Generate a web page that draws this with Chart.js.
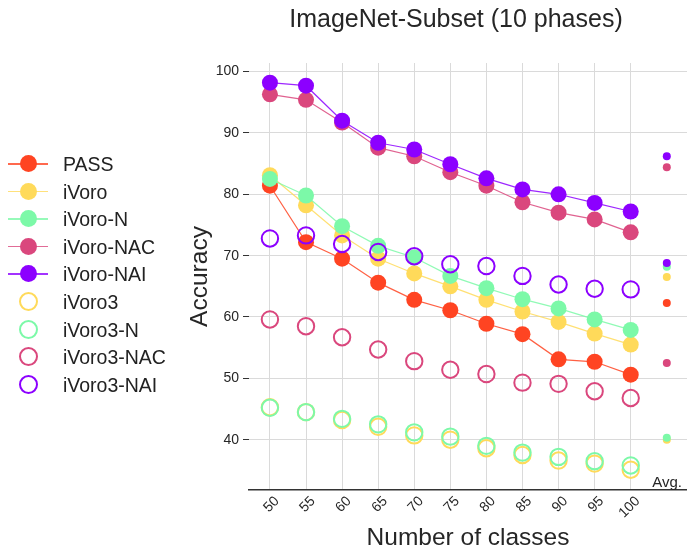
<!DOCTYPE html>
<html>
<head>
<meta charset="utf-8">
<script src="https://cdn.jsdelivr.net/npm/chart.js@4/dist/chart.umd.min.js"></script>
<style>
  html, body { margin: 0; padding: 0; background: #fff; }
  #wrap { position: relative; width: 687px; height: 550px; }
  #legend { position: absolute; left: 0; top: 0; font-family: "Liberation Sans", Arial, sans-serif; font-size: 19.5px; color: #222; }
  .row { position: absolute; left: 0; width: 180px; height: 28px; }
  .row .ln { position: absolute; left: 8px; width: 40px; top: 13px; height: 1.5px; }
  .row .dot { position: absolute; left: 20px; top: 5px; width: 17px; height: 17px; border-radius: 50%; box-sizing: border-box; }
  .row .lbl { position: absolute; left: 63px; top: 3px; white-space: nowrap; }
</style>
</head>
<body>
<div id="wrap">
  <canvas id="c" width="687" height="550"></canvas>
  <div id="legend"></div>
</div>
<script>
// ── DATA ───────────────────────────────────────────────────────
const TITLE   = 'ImageNet-Subset (10 phases)';
const CLASSES = [50, 55, 60, 65, 70, 75, 80, 85, 90, 95, 100];
const Y_TICKS = [40, 50, 60, 70, 80, 90, 100];

const PASS       = [81.4, 72.2, 69.5, 65.6, 62.8, 61.1, 58.9, 57.2, 53.1, 52.7, 50.6];
const IVORO      = [83.1, 78.2, 73.3, 69.5, 67.1, 65.0, 62.8, 60.9, 59.2, 57.3, 55.5];
const IVORO_N    = [82.5, 79.8, 74.8, 71.6, 69.7, 66.7, 64.7, 62.9, 61.4, 59.6, 57.9];
const IVORO_NAC  = [96.3, 95.4, 91.7, 87.6, 86.2, 83.6, 81.4, 78.7, 77.0, 75.9, 73.8];
const IVORO_NAI  = [98.2, 97.7, 92.0, 88.4, 87.3, 84.9, 82.6, 80.8, 80.0, 78.6, 77.2];
const IVORO3     = [45.3, 44.5, 43.2, 42.1, 40.7, 40.0, 38.6, 37.5, 36.6, 36.1, 35.1];
const IVORO3_N   = [45.2, 44.5, 43.4, 42.5, 41.2, 40.5, 39.0, 37.9, 37.2, 36.5, 35.8];
const IVORO3_NAC = [59.6, 58.5, 56.7, 54.7, 52.8, 51.4, 50.7, 49.3, 49.1, 47.9, 46.8];
const IVORO3_NAI = [72.8, 73.3, 71.9, 70.6, 69.9, 68.6, 68.3, 66.7, 65.3, 64.6, 64.5];

// averages, same order as SERIES below (drawn at the "Avg." column)
const AVG_X = 105;
const AVG   = [62.3, 66.5, 68.2, 84.4, 86.2, 40.0, 40.3, 52.5, 68.8];

const SERIES = [
  { name: 'PASS',       data: PASS,       color: '#ff4422', filled: true },
  { name: 'iVoro',      data: IVORO,      color: '#ffda5a', filled: true },
  { name: 'iVoro-N',    data: IVORO_N,    color: '#7cf9a8', filled: true },
  { name: 'iVoro-NAC',  data: IVORO_NAC,  color: '#da477d', filled: true },
  { name: 'iVoro-NAI',  data: IVORO_NAI,  color: '#8c00ff', filled: true },
  { name: 'iVoro3',     data: IVORO3,     color: '#ffda5a', filled: false },
  { name: 'iVoro3-N',   data: IVORO3_N,   color: '#7cf9a8', filled: false },
  { name: 'iVoro3-NAC', data: IVORO3_NAC, color: '#da477d', filled: false },
  { name: 'iVoro3-NAI', data: IVORO3_NAI, color: '#8c00ff', filled: false },
];

// ── STYLE ──────────────────────────────────────────────────────
const FONT = '"Liberation Sans", Arial, sans-serif';
const TEXT = '#262626';
const GRID = '#dadada';

function withAlpha(hex, a) {
  const n = parseInt(hex.slice(1), 16);
  return `rgba(${n >> 16},${(n >> 8) & 255},${n & 255},${a})`;
}

// ── DATASETS ───────────────────────────────────────────────────
const datasets = SERIES.map((s, i) => ({
  label: s.name,
  data: CLASSES.map((x, j) => ({ x, y: s.data[j] })),
  showLine: s.filled,
  borderColor: withAlpha(s.color, 0.85),
  borderWidth: 1.2,
  pointRadius: s.filled ? 8 : 8.2,
  pointBackgroundColor: s.filled ? s.color : 'rgba(0,0,0,0)',
  pointBorderColor: s.color,
  pointBorderWidth: s.filled ? 0 : 2,
  pointHoverRadius: 8,
  order: -i,
}));

datasets.push({
  label: 'Avg.',
  data: AVG.map(y => ({ x: AVG_X, y })),
  showLine: false,
  pointRadius: 4,
  pointBorderWidth: 0,
  pointBackgroundColor: SERIES.map(s => s.color),
  order: -20,
});

// title (slightly left of the plot centre, as in the figure) and the
// "Avg." text sitting above the x axis at the right end
const extraText = {
  id: 'extraText',
  afterDraw(chart) {
    const { ctx, chartArea } = chart;
    ctx.save();
    ctx.fillStyle = TEXT;
    ctx.textBaseline = 'alphabetic';
    ctx.font = `25px ${FONT}`;
    ctx.textAlign = 'center';
    ctx.fillText(TITLE, (chartArea.left + chartArea.right) / 2 - 12, 27);
    ctx.font = `15px ${FONT}`;
    ctx.textAlign = 'right';
    ctx.fillText('Avg.', chartArea.right - 5, chartArea.bottom - 3);
    ctx.restore();
  },
};

Chart.defaults.font.family = FONT;
Chart.defaults.color = TEXT;

new Chart(document.getElementById('c'), {
  type: 'scatter',
  data: { datasets },
  options: {
    responsive: false,
    animation: false,
    layout: { autoPadding: false, padding: { left: 175, right: 0, top: 63, bottom: 0 } },
    plugins: {
      legend: { display: false },
      tooltip: { enabled: false },
      title: { display: false },
    },
    scales: {
      x: {
        type: 'linear',
        min: 47.1,
        max: 107.8,
        afterBuildTicks: s => { s.ticks = CLASSES.map(v => ({ value: v })); },
        afterFit: s => { s.height = 60; s.paddingRight = 0; s.paddingLeft = 0; },
        ticks: { color: TEXT, font: { size: 14 }, minRotation: 45, maxRotation: 45, padding: 3, labelOffset: 7 },
        grid: { color: GRID, lineWidth: 1, drawTicks: false },
        border: { display: true, color: '#333', width: 1.5 },
        title: { display: true, text: 'Number of classes', color: TEXT, font: { size: 24.5 }, padding: { top: 0, bottom: -3 } },
      },
      y: {
        min: 31.8,
        max: 101.4,
        afterBuildTicks: s => { s.ticks = Y_TICKS.map(v => ({ value: v })); },
        afterFit: s => { s.width = 74; s.paddingTop = 0; s.paddingBottom = 0; },
        ticks: { color: TEXT, font: { size: 14 }, padding: 4 },
        grid: { color: GRID, lineWidth: 1, tickColor: '#333', tickLength: 6 },
        border: { display: false },
        title: { display: true, text: 'Accuracy', color: TEXT, font: { size: 24.5 }, padding: { top: 11, bottom: 0 } },
      },
    },
  },
  plugins: [extraText],
});

// ── LEGEND (html) ──────────────────────────────────────────────
const legend = document.getElementById('legend');
SERIES.forEach((s, i) => {
  const row = document.createElement('div');
  row.className = 'row';
  row.style.top = (150 + i * 27.6) + 'px';
  if (s.filled) {
    const ln = document.createElement('div');
    ln.className = 'ln';
    ln.style.background = withAlpha(s.color, 0.8);
    row.appendChild(ln);
  }
  const dot = document.createElement('div');
  dot.className = 'dot';
  if (s.filled) dot.style.background = s.color;
  else dot.style.border = `2px solid ${s.color}`;
  if (!s.filled) { dot.style.width = '19px'; dot.style.height = '19px'; dot.style.left = '19px'; dot.style.top = '4px'; }
  row.appendChild(dot);
  const lbl = document.createElement('span');
  lbl.className = 'lbl';
  lbl.textContent = s.name;
  row.appendChild(lbl);
  legend.appendChild(row);
});
</script>
</body>
</html>
